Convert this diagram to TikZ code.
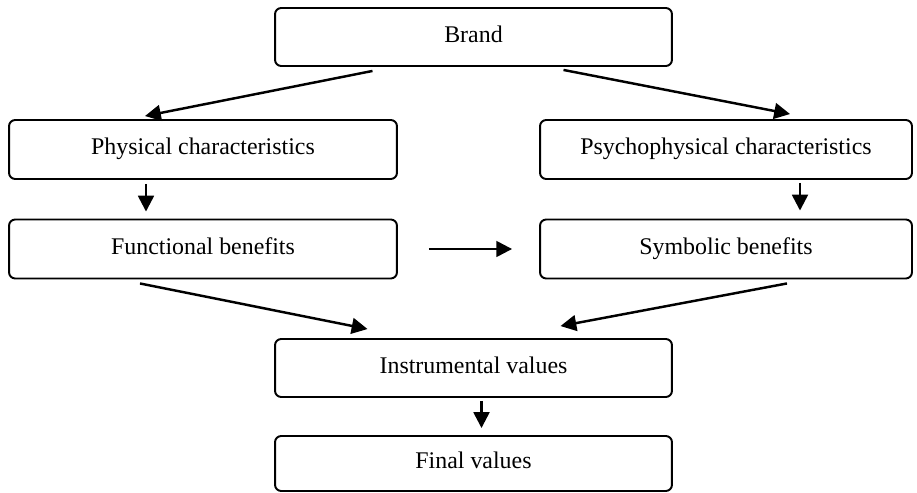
\documentclass[tikz,border=0pt]{standalone}
\usepackage{fontspec}
\setmainfont{Liberation Serif}
\usetikzlibrary{arrows.meta}

\begin{document}
\begin{tikzpicture}[x=0.02cm, y=-0.02cm,
    boite/.style={draw, line width=1.1pt, rounded corners=3.5pt, align=center,
      font=\fontsize{13.6}{16}\selectfont, inner sep=0pt,
      text height=9pt, text depth=3pt},
    large/.style={boite, minimum width=7.94cm, minimum height=1.16cm},
    cote/.style={boite, minimum height=1.18cm},
    fleche/.style={line width=1.4pt, -{Triangle[length=9pt, width=9pt]}}]
    \useasboundingbox (0,0) rectangle (917,493);
    % définition des boites
    \node[large] (brand) at (473.5,37) {Brand};
    \node[cote, minimum width=7.76cm] (phys) at (203,149.5) {Physical characteristics};
    \node[cote, minimum width=7.44cm] (psych) at (726,149.5) {Psychophysical characteristics};
    \node[cote, minimum width=7.76cm] (func) at (203,249) {Functional benefits};
    \node[cote, minimum width=7.44cm] (symb) at (726,249) {Symbolic benefits};
    \node[large] (instr) at (473.5,368) {Instrumental values};
    \node[large, minimum height=1.1cm] (final) at (473.5,463.5) {Final values};
    % flèches
    \draw[fleche] ([shift={(-101,4)}]brand.south) -- ([shift={(-58,-3)}]phys.north);
    \draw[fleche] ([shift={(90,3)}]brand.south) -- ([shift={(64,-5)}]psych.north);
    \draw[fleche] ([shift={(-57,4)}]phys.south) -- ([shift={(-57,-7)}]func.north);
    \draw[fleche] ([shift={(74,3)}]psych.south) -- ([shift={(74,-8)}]symb.north);
    \draw[fleche] ([shift={(31,0)}]func.east) -- ([shift={(-27,0)}]symb.west);
    \draw[fleche] ([shift={(-63,4)}]func.south) -- ([shift={(-106,-9)}]instr.north);
    \draw[fleche] ([shift={(61,4)}]symb.south) -- ([shift={(87,-12)}]instr.north);
    \draw[fleche] ([shift={(8,3)}]instr.south) -- ([shift={(8,-7)}]final.north);
\end{tikzpicture}
\end{document}
